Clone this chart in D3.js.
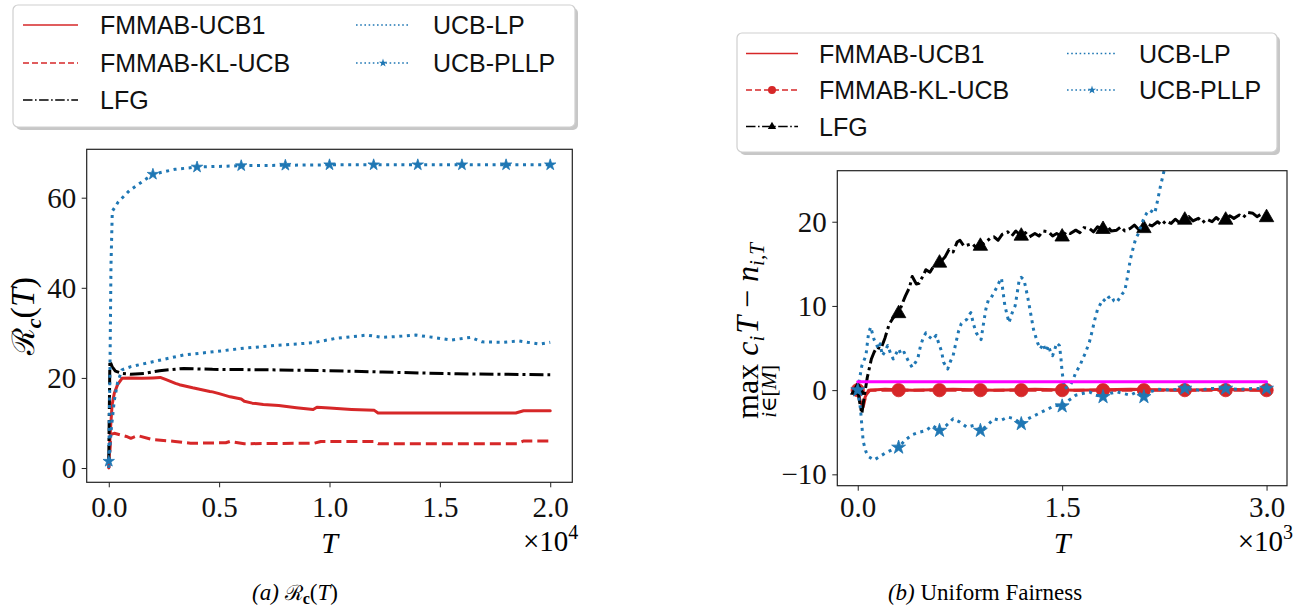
<!DOCTYPE html>
<html><head><meta charset="utf-8">
<script src="https://cdn.jsdelivr.net/npm/d3@7"></script>
<style>body{margin:0;background:#fff} svg{display:block}</style>
</head><body><svg id="c" width="1296" height="612"></svg>
<script>
// ---------------- DATA ----------------
const seriesNames = ["FMMAB-UCB1", "FMMAB-KL-UCB", "LFG", "UCB-LP", "UCB-PLLP"];
const leftXTicks = [0, 5000, 10000, 15000, 20000];
const leftYTicks = [0, 20, 40, 60];
const rightXTicks = [0, 1500, 3000];
const rightYTicks = [-10, 0, 10, 20];

// (a) R_c(T)
const leftUCB1 = [[0,0],[40,5],[75,8.5],[150,14],[250,16.6],[400,18.5],[600,19.9],[1000,20],[1500,19.9],[2000,20],[2330,20.1],[2600,19.6],[3020,18.8],[3200,18.5],[3800,17.8],[4580,17],[4700,16.9],[5000,16.5],[5500,15.8],[6000,15.3],[6140,14.8],[6500,14.4],[7000,14.1],[7700,13.9],[8500,13.4],[9260,13.0],[9430,13.5],[10000,13.3],[11000,13.0],[12030,12.8],[12200,12.2],[15000,12.2],[18440,12.2],[18790,12.7],[20000,12.7]];
const leftKL = [[0,0],[100,7.5],[250,7.7],[500,7.4],[800,7.0],[1000,6.6],[1300,7.2],[2000,6.3],[3000,5.9],[3700,5.5],[5300,5.6],[5500,5.9],[6140,5.4],[9300,5.5],[9600,5.9],[12000,5.9],[12200,5.4],[18500,5.4],[18800,6.0],[20000,6.0]];
const leftLFG = [[0,2],[50,23.8],[150,22.5],[300,21.5],[600,21.0],[1000,20.8],[1600,21.0],[2300,21.6],[3400,22.1],[4700,21.9],[7200,21.8],[10000,21.6],[12400,21.3],[15800,20.9],[20000,20.7]];
const leftLP = [[0,0],[100,8],[250,15],[400,19],[600,21.8],[1000,22.5],[2000,23.6],[3400,25.1],[4750,25.8],[6140,26.6],[7520,27.2],[9260,27.8],[10300,28.8],[11700,29.5],[12400,29],[13100,29.2],[13900,29.5],[14700,29.0],[15500,28.4],[16400,29],[16900,28],[17900,27.9],[18600,28.2],[19500,27.5],[20000,27.9]];
const leftPLLP = [[0,1.5],[50,20],[100,45],[160,57],[420,59],[940,61.6],[2000,65.2],[3000,66.3],[4000,66.8],[6000,67.1],[8000,67.2],[10000,67.3],[12000,67.3],[14000,67.3],[16000,67.3],[18000,67.3],[20000,67.3]];

// (b) Uniform Fairness
const rightUCB1 = [[0,0],[15,-1.2],[35,-1.9],[55,-0.8],[80,0],[200,0.1],[400,0],[700,0.1],[1000,0],[1300,0.1],[1600,0],[2000,0.1],[2400,0],[2700,0.1],[3000,0]];
const rightKL = [[0,0],[20,-1.5],[40,-2.0],[60,-0.6],[90,0],[300,0],[600,0],[900,0],[1200,0],[1500,0],[1800,0],[2100,0],[2400,0],[2700,0],[3000,0]];
const rightLFG = [[0,0],[15,-1.5],[30,-2.8],[50,-0.5],[70,1.5],[100,3.7],[120,4.5],[140,5.1],[170,4.9],[200,6.2],[230,7.8],[260,8.6],[300,9.1],[330,10.4],[350,11.2],[380,12.2],[400,13.5],[430,12.6],[450,12.7],[480,13.6],[500,14.3],[530,14.0],[560,14.8],[600,15.1],[640,15.8],[670,16.7],[700,16.4],[730,17.6],[750,17.8],[780,17.1],[800,17.2],[840,17.4],[870,16.9],[900,17.1],[940,17.6],[970,18.0],[1000,18.2],[1030,17.8],[1060,18.5],[1100,18.8],[1130,18.3],[1160,18.9],[1200,18.3],[1230,18.7],[1260,18.2],[1300,18.6],[1330,18.3],[1360,18.9],[1400,18.8],[1430,18.3],[1460,18.6],[1500,18.2],[1530,18.8],[1560,18.6],[1600,19.0],[1630,18.7],[1660,19.3],[1700,19.2],[1730,18.8],[1760,19.4],[1800,19.1],[1830,19.5],[1860,18.9],[1900,19.0],[1930,19.4],[1960,18.9],[2000,19.2],[2030,19.6],[2060,19.1],[2100,19.2],[2130,19.7],[2160,19.5],[2200,20.0],[2230,19.6],[2260,20.1],[2300,19.8],[2330,20.3],[2360,19.9],[2400,20.2],[2430,20.6],[2460,20.1],[2500,20.4],[2530,19.9],[2560,20.3],[2600,20.0],[2630,20.5],[2660,20.1],[2700,20.2],[2730,20.7],[2760,20.4],[2800,20.8],[2830,20.5],[2860,21.1],[2900,21.0],[2930,20.6],[2960,20.9],[3000,20.5]];
const rightLP = [[0,0],[15,1.5],[30,2.9],[45,3.5],[60,4.1],[70,5.5],[80,6.8],[95,7.5],[105,6.9],[120,6.0],[135,5.6],[150,4.9],[165,5.5],[180,4.1],[200,4.6],[220,5.3],[240,4.4],[260,3.7],[280,4.3],[300,4.9],[320,4.2],[340,4.5],[370,3.5],[400,2.7],[420,3.2],[440,3.7],[460,5.2],[480,6.2],[500,6.8],[520,6.4],[550,6.0],[575,6.5],[600,5.3],[615,4.6],[630,3.3],[645,2.9],[660,2.5],[680,3.4],[700,4.1],[720,5.6],[740,7.0],[760,7.9],[780,8.2],[800,8.4],[815,8.9],[830,9.2],[850,7.8],[870,6.8],[890,6.3],[905,6.0],[920,7.6],[940,9.6],[960,10.8],[980,11.0],[1000,11.6],[1020,12.2],[1040,12.9],[1055,13.3],[1065,11.8],[1080,10.0],[1095,9.0],[1110,8.0],[1125,8.8],[1140,9.5],[1155,10.0],[1170,11.5],[1185,13.1],[1200,13.4],[1220,13.1],[1235,12.0],[1250,10.8],[1270,9.0],[1290,7.2],[1305,6.4],[1320,5.6],[1340,4.9],[1360,5.5],[1380,4.6],[1400,5.3],[1415,4.5],[1430,4.1],[1445,4.8],[1460,5.6],[1480,5.3],[1490,4.0],[1500,2.1],[1510,1.0],[1520,0.2],[1540,0.4],[1560,0.6],[1580,1.2],[1600,2.1],[1630,2.9],[1650,3.7],[1670,4.4],[1700,5.7],[1720,7.0],[1740,8.4],[1760,9.6],[1780,10.2],[1800,10.8],[1820,10.5],[1840,11.0],[1860,11.2],[1880,10.6],[1900,10.4],[1920,10.9],[1940,11.4],[1960,11.8],[1980,13.5],[2000,15.5],[2020,16.8],[2040,18.0],[2060,18.6],[2080,19.6],[2100,20.4],[2120,21.0],[2140,21.4],[2160,21.2],[2180,21.0],[2200,22.5],[2220,24.1],[2240,25.5],[2260,26.9],[2280,28.0],[2300,29.0]];
const rightPLLP = [[0,0],[20,-2.2],[40,-6.1],[60,-7.3],[80,-7.9],[120,-8.3],[160,-7.9],[200,-7.5],[250,-7.1],[300,-6.8],[350,-5.9],[400,-5.3],[450,-5.0],[500,-4.8],[550,-4.2],[600,-4.8],[650,-4.2],[700,-3.4],[750,-3.8],[800,-4.4],[850,-4.2],[900,-4.8],[950,-4.2],[1000,-3.4],[1050,-3.6],[1100,-3.2],[1150,-3.4],[1200,-4.0],[1250,-3.4],[1300,-3.0],[1350,-2.6],[1400,-2.2],[1450,-1.8],[1500,-1.9],[1550,-1.2],[1600,-0.6],[1650,-0.4],[1700,-0.2],[1750,-0.6],[1800,-0.8],[1850,-0.4],[1900,-0.2],[1950,-0.4],[2000,-0.6],[2050,-0.2],[2100,-0.8],[2150,-0.2],[2200,0.1],[2300,0],[2400,0.2],[2500,0],[2600,0.2],[2700,0.2],[2800,0.1],[2900,0.2],[3000,0.2]];
const rightRef = [[0,1],[3000,1]];

// ---------------- DRAW ----------------
const svg = d3.select("#c");
svg.append("rect").attr("width",1296).attr("height",612).attr("fill","#fff");
const RED = "#d62728", BLUE = "#1f77b4", BLACK = "#000", MAG = "#ff00ff";
const SERIF = "'Liberation Serif', 'DejaVu Serif', serif";
const SANS = "'Liberation Sans', Arial, sans-serif";
const TICKFS = 29;

function drawAxes(P) {
  const g = svg.append("g");
  const x = d3.scaleLinear().domain(P.xd).range([P.l, P.r]);
  const y = d3.scaleLinear().domain(P.yd).range([P.b, P.t]);
  const xa = g.append("g").attr("transform", `translate(0,${P.b})`)
    .call(d3.axisBottom(x).tickValues(P.xt).tickSize(5).tickFormat(P.xf));
  xa.select(".domain").remove();
  xa.selectAll("line").attr("stroke", "#222").attr("stroke-width", 1);
  xa.selectAll("text").attr("y", P.xlabY).attr("dy", 0)
    .style("font-family", SERIF).style("font-size", TICKFS + "px").attr("fill", "#111");
  const ya = g.append("g").attr("transform", `translate(${P.l},0)`)
    .call(d3.axisLeft(y).tickValues(P.yt).tickSize(5).tickPadding(5.5).tickFormat(d => d < 0 ? "\u2212" + Math.abs(d) : d));
  ya.select(".domain").remove();
  ya.selectAll("line").attr("stroke", "#222").attr("stroke-width", 1);
  ya.selectAll("text").attr("dy", (0.33 * TICKFS) + "px")
    .style("font-family", SERIF).style("font-size", TICKFS + "px").attr("fill", "#111");
  return {g, x, y};
}

function frame(P) {
  svg.append("rect").attr("x", P.l).attr("y", P.t).attr("width", P.r - P.l).attr("height", P.b - P.t)
    .attr("fill", "none").attr("stroke", "#222").attr("stroke-width", 1.2);
}

function drawLine(g, x, y, data, color, width, dash) {
  const line = d3.line().x(d => x(d[0])).y(d => y(d[1]));
  g.append("path").datum(data).attr("d", line).attr("fill", "none")
    .attr("stroke", color).attr("stroke-width", width)
    .attr("stroke-dasharray", dash || null).attr("stroke-linejoin", "round")
    .attr("stroke-linecap", dash ? "butt" : "round");
}

function drawMarkers(g, x, y, data, every, type, size, color) {
  const pts = data.filter(d => d[0] % every === 0);
  g.selectAll(null).data(pts).enter().append("path")
    .attr("transform", d => `translate(${x(d[0])},${y(d[1])})`)
    .attr("d", d3.symbol().type(type).size(size)).attr("fill", color).attr("stroke", color).attr("stroke-width", 0.8);
}

// ---------- Panel (a) ----------
const PA = {l: 86.7, r: 572.3, t: 149.3, b: 482.3, xd: [-1000, 21000], yd: [-3.17, 70.74],
  xt: leftXTicks, yt: leftYTicks, xf: d => (d / 1e4).toFixed(1), xlabY: 35};
const A = drawAxes(PA);
const ga = svg.append("g");
drawLine(ga, A.x, A.y, leftUCB1, RED, 3, null);
drawLine(ga, A.x, A.y, leftKL, RED, 3, "11,5");
drawLine(ga, A.x, A.y, leftLFG, BLACK, 3, "14,4,3,4");
drawLine(ga, A.x, A.y, leftLP, BLUE, 3, "3,4.6");
drawLine(ga, A.x, A.y, leftPLLP, BLUE, 3, "3,4.6");
drawMarkers(ga, A.x, A.y, leftPLLP, 2000, d3.symbolStar, 40, BLUE);
frame(PA);

// ---------- Panel (b) ----------
const PB = {l: 837.3, r: 1287, t: 170.7, b: 485.7, xd: [-150, 3150], yd: [-11.35, 26.06],
  xt: rightXTicks, yt: rightYTicks, xf: d => (d / 1e3).toFixed(1), xlabY: 31};
const B = drawAxes(PB);
svg.append("clipPath").attr("id", "clipB").append("rect")
  .attr("x", PB.l).attr("y", PB.t).attr("width", PB.r - PB.l).attr("height", PB.b - PB.t);
const gb = svg.append("g").attr("clip-path", "url(#clipB)");
drawLine(gb, B.x, B.y, rightUCB1, RED, 3, null);
drawLine(gb, B.x, B.y, rightKL, RED, 3, "11,5");
drawMarkers(gb, B.x, B.y, rightKL, 300, d3.symbolCircle, 140, RED);
drawLine(gb, B.x, B.y, rightLFG, BLACK, 3, "14,4,3,4");
drawMarkers(gb, B.x, B.y, rightLFG, 300, d3.symbolTriangle, 90, BLACK);
drawLine(gb, B.x, B.y, rightLP, BLUE, 3, "3,4.6");
drawLine(gb, B.x, B.y, rightPLLP, BLUE, 3, "3,4.6");
drawMarkers(gb, B.x, B.y, rightPLLP, 300, d3.symbolStar, 60, BLUE);
drawLine(gb, B.x, B.y, rightRef, MAG, 3, null);
frame(PB);

// ---------- axis labels ----------
function xLabel(P, supTxt) {
  const cx = (P.l + P.r) / 2;
  svg.append("text").attr("x", cx).attr("y", 553).attr("text-anchor", "middle")
    .style("font-family", SERIF).style("font-style", "italic").style("font-size", "30px").text("T");
  const t = svg.append("text").attr("x", P.r + 6).attr("y", 551).attr("text-anchor", "end")
    .style("font-family", SERIF).style("font-size", "29px");
  t.append("tspan").text("\u00d710");
  t.append("tspan").attr("dy", -12).style("font-size", "20px").text(supTxt);
}
xLabel(PA, "4");
xLabel(PB, "3");

// left y label: R_c(T)
{
  const g = svg.append("g").attr("transform", "translate(34,316) rotate(-90)");
  const t = g.append("text").attr("text-anchor", "middle").attr("y", 0)
    .style("font-family", SERIF).style("font-size", "34px");
  t.append("tspan").style("font-family", "'DejaVu Serif', serif").style("font-size", "31px").text("\u211B");
  t.append("tspan").attr("dy", 7).style("font-size", "22px").style("font-weight", "bold").style("font-style", "italic").text("c");
  t.append("tspan").attr("dy", -7).text("(");
  t.append("tspan").style("font-style", "italic").text("T");
  t.append("tspan").text(")");
}

// right y label: max_{i in [M]} c_i T - n_{i,T}
{
  const g = svg.append("g");
  const fs = 32, sfs = 21;
  const pieces = [
    {t: "max", st: "normal", fs: fs, dy: 0, gap: 8},
    {t: "c", st: "italic", fs: fs, dy: 0, gap: 0},
    {t: "i", st: "italic", fs: sfs, dy: 6, gap: 2},
    {t: "T", st: "italic", fs: fs, dy: 0, gap: 8},
    {t: "\u2212", st: "normal", fs: fs, dy: 0, gap: 8},
    {t: "n", st: "italic", fs: fs, dy: 0, gap: 0},
    {t: "i,T", st: "italic", fs: sfs, dy: 6, gap: 0}
  ];
  let xx = 0; let maxW = 0;
  pieces.forEach((p, i) => {
    const t = g.append("text").attr("x", xx).attr("y", p.dy)
      .style("font-family", SERIF).style("font-style", p.st).style("font-size", p.fs + "px").text(p.t);
    const w = t.node().getComputedTextLength();
    if (i === 0) maxW = w;
    xx += w + p.gap;
  });
  const sub = g.append("text").attr("x", maxW / 2).attr("y", 18).attr("text-anchor", "middle")
    .style("font-family", SERIF).style("font-size", sfs + "px");
  sub.append("tspan").style("font-style", "italic").text("i");
  sub.append("tspan").text("\u2208[");
  sub.append("tspan").style("font-style", "italic").text("M");
  sub.append("tspan").text("]");
  const total = xx;
  g.attr("transform", `translate(758,${331 + total / 2}) rotate(-90)`);
}

// ---------- legends ----------
function legend(box, cols, rows, entries) {
  const g = svg.append("g");
  g.append("rect").attr("x", box.x + 3).attr("y", box.y + 3).attr("width", box.w).attr("height", box.h)
    .attr("rx", 5).attr("fill", "#999").attr("opacity", 0.55);
  g.append("rect").attr("x", box.x).attr("y", box.y).attr("width", box.w).attr("height", box.h)
    .attr("rx", 5).attr("fill", "#fff").attr("stroke", "#cfcfcf").attr("stroke-width", 1.2);
  entries.forEach((e) => {
    const c = cols[e.col], ry = rows[e.row];
    g.append("line").attr("x1", c.h0).attr("x2", c.h1).attr("y1", ry).attr("y2", ry)
      .attr("stroke", e.color).attr("stroke-width", 1.6).attr("stroke-dasharray", e.dash || null);
    if (e.marker) {
      g.append("path").attr("transform", `translate(${(c.h0 + c.h1) / 2},${ry})`)
        .attr("d", d3.symbol().type(e.marker).size(e.msize)).attr("fill", e.color);
    }
    g.append("text").attr("x", c.tx).attr("y", ry + 9).style("font-family", SANS)
      .style("font-size", "25px").attr("fill", "#111").text(e.name);
  });
}
const legDash = {solid: null, dashed: "6,3", dashdot: "9.5,2.5,1.6,2.5", dotted: "1.6,2.6"};
legend({x: 13, y: 5, w: 562, h: 122},
  [{h0: 23, h1: 78, tx: 100}, {h0: 356, h1: 410, tx: 433}], [25, 63, 100],
  [
    {name: seriesNames[0], col: 0, row: 0, color: RED, dash: legDash.solid},
    {name: seriesNames[1], col: 0, row: 1, color: RED, dash: legDash.dashed},
    {name: seriesNames[2], col: 0, row: 2, color: BLACK, dash: legDash.dashdot},
    {name: seriesNames[3], col: 1, row: 0, color: BLUE, dash: legDash.dotted},
    {name: seriesNames[4], col: 1, row: 1, color: BLUE, dash: legDash.dotted, marker: d3.symbolStar, msize: 22}
  ]);
legend({x: 737, y: 33, w: 540, h: 119},
  [{h0: 746, h1: 798, tx: 819}, {h0: 1067, h1: 1117, tx: 1139}], [53.5, 90, 126.5],
  [
    {name: seriesNames[0], col: 0, row: 0, color: RED, dash: legDash.solid},
    {name: seriesNames[1], col: 0, row: 1, color: RED, dash: legDash.dashed, marker: d3.symbolCircle, msize: 50},
    {name: seriesNames[2], col: 0, row: 2, color: BLACK, dash: legDash.dashdot, marker: d3.symbolTriangle, msize: 30},
    {name: seriesNames[3], col: 1, row: 0, color: BLUE, dash: legDash.dotted},
    {name: seriesNames[4], col: 1, row: 1, color: BLUE, dash: legDash.dotted, marker: d3.symbolStar, msize: 22}
  ]);

// ---------- captions ----------
{
  const t = svg.append("text").attr("x", 295).attr("y", 600).attr("text-anchor", "middle")
    .style("font-family", SERIF).style("font-size", "23px");
  t.append("tspan").style("font-style", "italic").text("(a) ");
  t.append("tspan").style("font-family", "'DejaVu Serif', serif").style("font-size", "21px").text("\u211B");
  t.append("tspan").attr("dy", 4).style("font-size", "16px").style("font-weight", "bold").text("c");
  t.append("tspan").attr("dy", -4).text("(");
  t.append("tspan").style("font-style", "italic").text("T");
  t.append("tspan").text(")");
  const t2 = svg.append("text").attr("x", 985).attr("y", 600).attr("text-anchor", "middle")
    .style("font-family", SERIF).style("font-size", "23px");
  t2.append("tspan").style("font-style", "italic").text("(b)");
  t2.append("tspan").text(" Uniform Fairness");
}
</script>
</body></html>
